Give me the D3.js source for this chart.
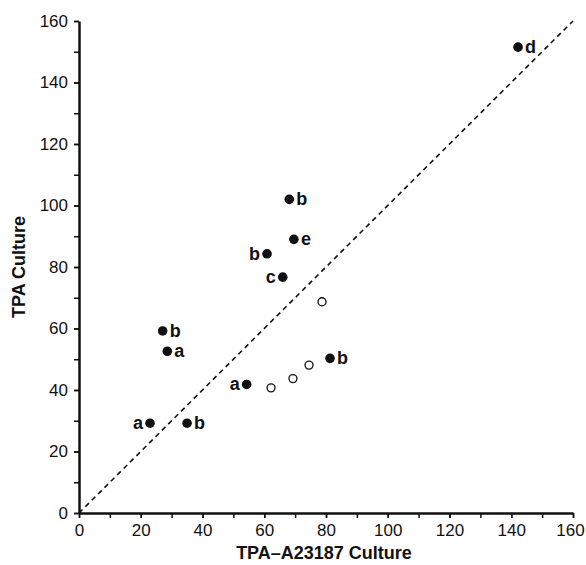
<!DOCTYPE html>
<html>
<head>
<meta charset="utf-8">
<script src="https://cdn.jsdelivr.net/npm/d3@7"></script>
<style>
  body { margin: 0; background: #fff; }
  svg text { font-family: "Liberation Sans", Arial, sans-serif; fill: #111; }
</style>
</head>
<body>
<div id="chart-area"></div>
<script>
// values
const filledX = [142.2, 68.1, 69.6, 60.9, 66.0, 27.1, 28.6, 81.3, 54.3, 23.0, 35.0];
const filledY = [151.5, 102.0, 89.0, 84.3, 76.7, 59.2, 52.6, 50.3, 41.8, 29.2, 29.2];
const filledLabels = ["d", "b", "e", "b", "c", "b", "a", "b", "a", "a", "b"];
const labelSide = ["right", "right", "right", "left", "left", "right", "right", "right", "left", "left", "right"];

const openX = [78.7, 74.5, 69.3, 62.2];
const openY = [68.7, 48.1, 43.7, 40.7];

const tickValues = [0, 20, 40, 60, 80, 100, 120, 140, 160];
const minorTicks = d3.range(0, 161, 10);

const chartAreaWidth = 586;
const chartAreaHeight = 565;
const margin = {top: 21, right: 13, bottom: 52, left: 79};
const width = chartAreaWidth - margin.left - margin.right;
const height = chartAreaHeight - margin.top - margin.bottom;

const svg = d3.select("#chart-area").append("svg")
    .attr("width", chartAreaWidth)
    .attr("height", chartAreaHeight);

const g = svg.append("g")
    .attr("transform", `translate(${margin.left}, ${margin.top})`);

const x = d3.scaleLinear().domain([0, 160]).range([0, width]);
const y = d3.scaleLinear().domain([0, 160]).range([height, 0]);

// minor ticks (every 10)
const xMinor = d3.axisBottom(x).tickValues(minorTicks).tickSize(5).tickFormat("");
const yMinor = d3.axisLeft(y).tickValues(minorTicks).tickSize(5).tickFormat("");

g.append("g")
    .attr("transform", `translate(0, ${height})`)
    .call(xMinor)
    .call(a => a.select(".domain").remove())
    .selectAll("line").attr("stroke", "#111").attr("stroke-width", 1.5);

g.append("g")
    .call(yMinor)
    .call(a => a.select(".domain").remove())
    .selectAll("line").attr("stroke", "#111").attr("stroke-width", 1.5);

// labelled axes
const xAxis = d3.axisBottom(x).tickValues(tickValues).tickSize(5).tickPadding(6).tickSizeOuter(0);
const yAxis = d3.axisLeft(y).tickValues(tickValues).tickSize(5).tickPadding(6).tickSizeOuter(0);

const gx = g.append("g")
    .attr("transform", `translate(0, ${height})`)
    .call(xAxis);
gx.select(".domain").attr("stroke", "#111").attr("stroke-width", 2.5);
gx.selectAll(".tick line").attr("stroke", "#111").attr("stroke-width", 1.5);
gx.selectAll(".tick text").attr("font-size", "17px").attr("fill", "#111");
// keep the last label inside the page
gx.selectAll(".tick text").filter(d => d === 160).attr("dx", "-3px");

const gy = g.append("g").call(yAxis);
gy.select(".domain").attr("stroke", "#111").attr("stroke-width", 2.5);
gy.selectAll(".tick line").attr("stroke", "#111").attr("stroke-width", 1.5);
gy.selectAll(".tick text").attr("font-size", "17px").attr("fill", "#111");

// diagonal line of identity
g.append("line")
    .attr("x1", x(0)).attr("y1", y(0))
    .attr("x2", x(160)).attr("y2", y(160))
    .attr("stroke", "#111")
    .attr("stroke-width", 1.6)
    .attr("stroke-dasharray", "5,4");

// open circles
g.selectAll(".open")
    .data(openX.map((v, i) => ({x: v, y: openY[i]})))
    .enter().append("circle")
    .attr("class", "open")
    .attr("cx", d => x(d.x))
    .attr("cy", d => y(d.y))
    .attr("r", 4)
    .attr("fill", "#fff")
    .attr("stroke", "#111")
    .attr("stroke-width", 1.3);

// filled circles
const pts = filledX.map((v, i) => ({x: v, y: filledY[i], label: filledLabels[i], side: labelSide[i]}));

g.selectAll(".filled")
    .data(pts)
    .enter().append("circle")
    .attr("class", "filled")
    .attr("cx", d => x(d.x))
    .attr("cy", d => y(d.y))
    .attr("r", 4.8)
    .attr("fill", "#111");

g.selectAll(".pt-label")
    .data(pts)
    .enter().append("text")
    .attr("class", "pt-label")
    .attr("x", d => x(d.x) + (d.side === "right" ? 7 : -7))
    .attr("y", d => y(d.y) + 6)
    .attr("text-anchor", d => d.side === "right" ? "start" : "end")
    .attr("font-size", "18px")
    .attr("font-weight", "bold")
    .text(d => d.label);

// axis titles
svg.append("text")
    .attr("x", margin.left + width / 2 - 2)
    .attr("y", 559)
    .attr("text-anchor", "middle")
    .attr("font-size", "18px")
    .attr("font-weight", "bold")
    .text("TPA\u2013A23187 Culture");

svg.append("text")
    .attr("transform", `translate(25, ${margin.top + height / 2}) rotate(-90)`)
    .attr("text-anchor", "middle")
    .attr("font-size", "18px")
    .attr("font-weight", "bold")
    .text("TPA Culture");
</script>
</body>
</html>
